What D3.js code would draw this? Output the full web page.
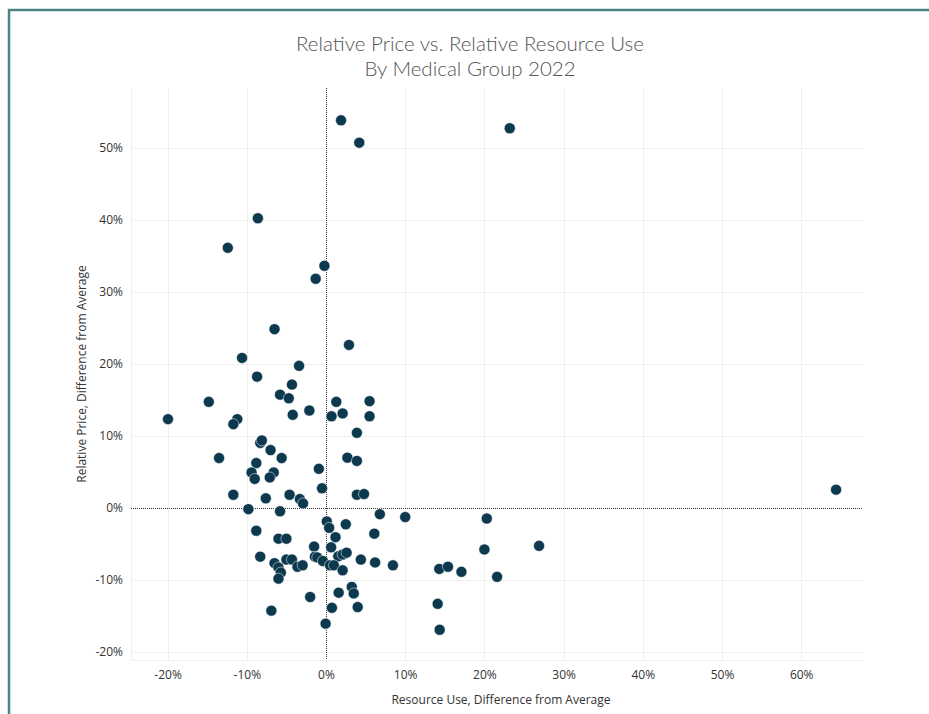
<!DOCTYPE html>
<html>
<head>
<meta charset="utf-8">
<script src="https://cdn.jsdelivr.net/npm/d3@7"></script>
<style>
    body { margin: 0; background: #fff; }
    #chart { width: 929px; height: 714px; }
</style>
</head>
<body>
<div id="chart"></div>
<script>

// resource use, difference from average (fraction)
const resourceUse = [
    0.019, 0.042, 0.232, -0.086, -0.124, -0.002, -0.013, -0.065, 0.029, -0.106,
    -0.034, -0.087, -0.043, -0.058, -0.047, -0.148, 0.013, 0.055, -0.1995, -0.112,
    -0.117, -0.021, -0.042, 0.007, 0.021, 0.055, 0.039, -0.083, -0.081, -0.070,
    -0.135, -0.056, 0.027, 0.039, -0.088, -0.009, -0.094, -0.066, -0.071, -0.090,
    -0.005, -0.117, -0.076, -0.046, -0.033, -0.029, 0.039, 0.048, 0.644, -0.098,
    -0.058, 0.068, 0.100, 0.203, 0.001, 0.004, 0.025, -0.088, 0.012, 0.061,
    -0.060, -0.050, -0.015, 0.0065, 0.200, 0.269, -0.083, -0.014, -0.011, -0.004,
    0.0155, 0.021, 0.026, 0.044, 0.062, 0.0845, 0.005, 0.010, -0.050, -0.043,
    -0.036, -0.0295, -0.065, -0.060, -0.057, -0.060, 0.021, 0.143, 0.154, 0.171,
    0.216, -0.020, 0.016, 0.0325, 0.035, 0.0075, 0.040, 0.141, 0.1435, -0.0005,
    -0.069
];

// relative price, difference from average (fraction)
const relativePrice = [
    0.538, 0.507, 0.527, 0.402, 0.361, 0.336, 0.318, 0.248, 0.226, 0.208,
    0.197, 0.182, 0.171, 0.157, 0.152, 0.147, 0.147, 0.148, 0.123, 0.123,
    0.116, 0.135, 0.129, 0.127, 0.131, 0.127, 0.104, 0.090, 0.0935, 0.080,
    0.069, 0.069, 0.0695, 0.065, 0.062, 0.054, 0.049, 0.049, 0.042, 0.040,
    0.027, 0.018, 0.013, 0.018, 0.012, 0.006, 0.018, 0.019, 0.025, -0.002,
    -0.005, -0.009, -0.013, -0.015, -0.019, -0.028, -0.023, -0.032, -0.041, -0.036,
    -0.043, -0.043, -0.054, -0.055, -0.058, -0.053, -0.068, -0.068, -0.069, -0.074,
    -0.0675, -0.065, -0.0625, -0.072, -0.076, -0.080, -0.080, -0.080, -0.072, -0.072,
    -0.082, -0.080, -0.077, -0.083, -0.090, -0.0985, -0.087, -0.085, -0.082, -0.089,
    -0.096, -0.124, -0.118, -0.110, -0.119, -0.139, -0.138, -0.1335, -0.1695, -0.161,
    -0.143
];

const xTicks = [-0.2, -0.1, 0, 0.1, 0.2, 0.3, 0.4, 0.5, 0.6];
const yTicks = [-0.2, -0.1, 0, 0.1, 0.2, 0.3, 0.4, 0.5];

const titleLines = ["Relative Price vs. Relative Resource Use", "By Medical Group 2022"];
const xTitle = "Resource Use, Difference from Average";
const yTitle = "Relative Price, Difference from Average";


function drawScatter() {
    const width = 929, height = 714;
    const plot = { left: 131, right: 863, top: 88, bottom: 660 };
    const font = "'Open Sans', sans-serif";

    let points = resourceUse.map((v, i) => ({ x: v, y: relativePrice[i] }));

    let svg = d3.select("#chart").append("svg")
        .attr("width", width)
        .attr("height", height);

    // dashboard frame
    svg.append("path")
        .attr("d", "M9,720 L9,10 L935,10")
        .attr("fill", "none")
        .attr("stroke", "#4d8487")
        .attr("stroke-width", 2.5);

    let x = d3.scaleLinear()
        .domain([-0.2462, 0.678])
        .range([plot.left, plot.right]);

    let y = d3.scaleLinear()
        .domain([-0.2115, 0.5829])
        .range([plot.bottom, plot.top]);

    // plain hyphen for negatives, like the original
    let pct = d => d3.format(".0%")(d).replace("\u2212", "-");

    // grid
    let grid = svg.append("g");
    grid.selectAll(".vgrid")
        .data(xTicks.filter(d => d !== 0))
        .enter().append("line")
        .attr("x1", d => Math.round(x(d)) + 0.5)
        .attr("x2", d => Math.round(x(d)) + 0.5)
        .attr("y1", plot.top)
        .attr("y2", plot.bottom)
        .attr("stroke", "#efefef");

    grid.selectAll(".hgrid")
        .data(yTicks.filter(d => d !== 0))
        .enter().append("line")
        .attr("x1", plot.left)
        .attr("x2", plot.right)
        .attr("y1", d => Math.round(y(d)) + 0.5)
        .attr("y2", d => Math.round(y(d)) + 0.5)
        .attr("stroke", "#efefef");

    grid.append("line")
        .attr("x1", plot.left + 0.5).attr("x2", plot.left + 0.5)
        .attr("y1", plot.top).attr("y2", plot.bottom)
        .attr("stroke", "#efefef");
    grid.append("line")
        .attr("x1", plot.left).attr("x2", plot.right)
        .attr("y1", plot.bottom + 0.5).attr("y2", plot.bottom + 0.5)
        .attr("stroke", "#efefef");

    // zero reference lines
    svg.append("line")
        .attr("x1", Math.round(x(0)) + 0.5).attr("x2", Math.round(x(0)) + 0.5)
        .attr("y1", plot.top).attr("y2", plot.bottom)
        .attr("stroke", "#333")
        .attr("stroke-dasharray", "1,1");
    svg.append("line")
        .attr("x1", plot.left).attr("x2", plot.right)
        .attr("y1", Math.round(y(0)) + 0.5).attr("y2", Math.round(y(0)) + 0.5)
        .attr("stroke", "#333")
        .attr("stroke-dasharray", "1,1");

    // axes, lines hidden
    let xAxis = svg.append("g")
        .attr("transform", "translate(0," + plot.bottom + ")")
        .call(d3.axisBottom(x).tickValues(xTicks).tickFormat(pct).tickSize(0).tickPadding(10));
    xAxis.select(".domain").remove();

    let yAxis = svg.append("g")
        .attr("transform", "translate(" + plot.left + ",0)")
        .call(d3.axisLeft(y).tickValues(yTicks).tickFormat(pct).tickSize(0).tickPadding(8));
    yAxis.select(".domain").remove();

    svg.selectAll(".tick text")
        .attr("font-family", font)
        .attr("font-size", 12)
        .attr("fill", "#333");

    // points
    svg.append("g").selectAll(".dot")
        .data(points)
        .enter().append("circle")
        .attr("class", "dot")
        .attr("cx", d => x(d.x))
        .attr("cy", d => y(d.y))
        .attr("r", 5.5)
        .attr("fill", "#0c394e")
        .attr("stroke", "#fff")
        .attr("stroke-width", 0.5);

    // titles
    let title = svg.append("text")
        .attr("x", 470)
        .attr("text-anchor", "middle")
        .attr("font-family", "Lato, sans-serif")
        .attr("font-weight", 300)
        .attr("font-size", 20.5)
        .attr("fill", "#555");
    title.selectAll("tspan")
        .data(titleLines)
        .enter().append("tspan")
        .attr("x", 470)
        .attr("y", (d, i) => 51 + i * 25)
        .text(d => d);

    svg.append("text")
        .attr("x", (plot.left + plot.right) / 2 + 4)
        .attr("y", 704)
        .attr("text-anchor", "middle")
        .attr("font-family", font)
        .attr("font-size", 12)
        .attr("fill", "#333")
        .text(xTitle);

    svg.append("text")
        .attr("transform", "translate(86," + (plot.top + plot.bottom) / 2 + ") rotate(-90)")
        .attr("text-anchor", "middle")
        .attr("font-family", font)
        .attr("font-size", 12)
        .attr("fill", "#333")
        .text(yTitle);
}

drawScatter();
</script>
</body>
</html>
